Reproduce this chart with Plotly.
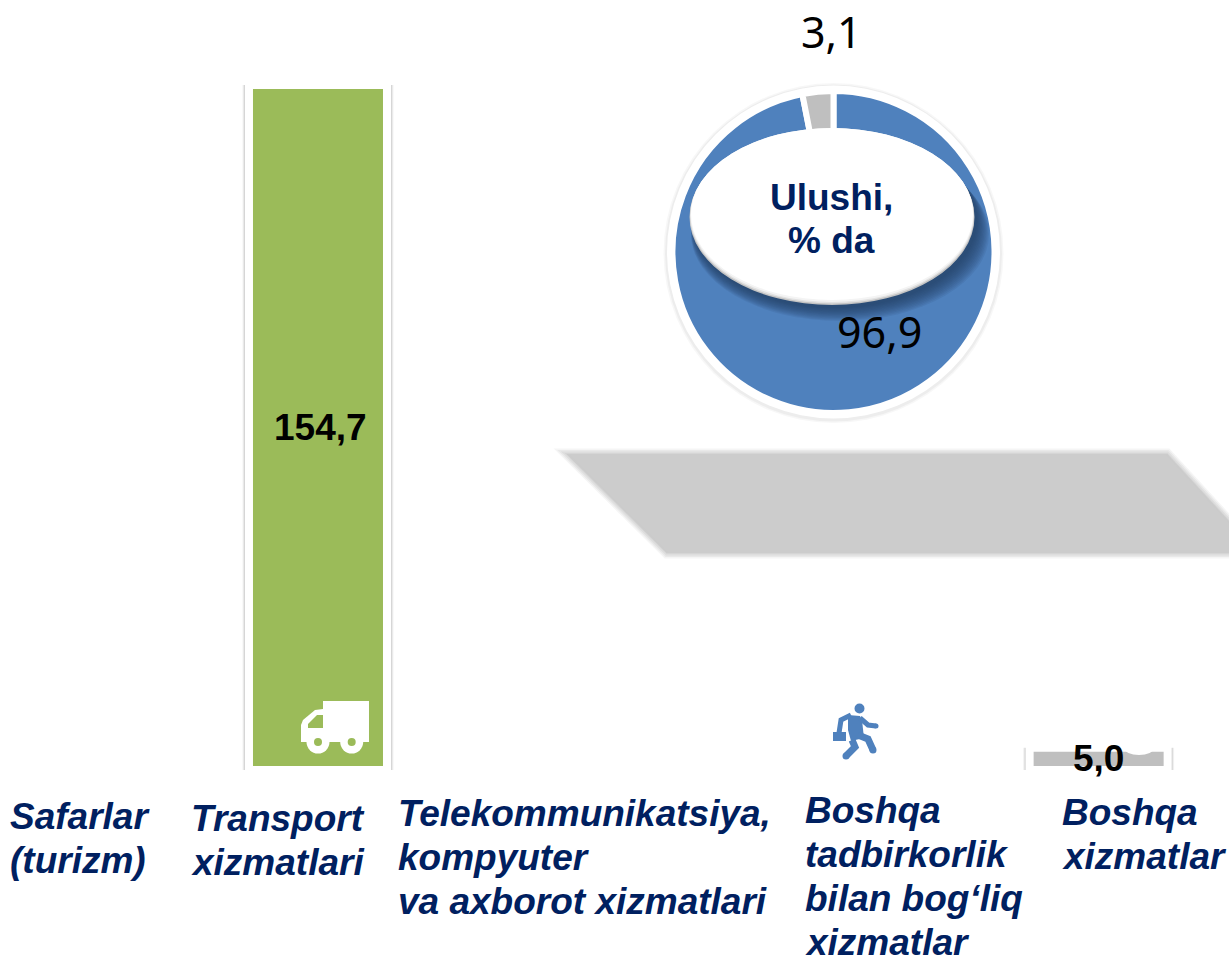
import plotly.graph_objects as go

W, H = 1229, 957

# ---- data ----
categories = ["Safarlar", "Transport", "Telekom", "Boshqa tadbirkorlik", "Boshqa xizmatlar"]
bar_values = [None, 154.7, None, None, 5.0]
bar_colors = ["#9bbb59", "#9bbb59", "#4f81bd", "#4f81bd", "#bfbfbf"]
pie_labels = ["Asosiy", "Boshqa"]
pie_values = [96.9, 3.1]
pie_colors = ["#4f81bd", "#bfbfbf"]
axis_labels = [
    ["Safarlar", "(turizm)"],
    ["Transport", "xizmatlari"],
    ["Telekommunikatsiya,", "kompyuter", "va axborot xizmatlari"],
    ["Boshqa", "tadbirkorlik", "bilan bog‘liq", "xizmatlar"],
    ["Boshqa", "xizmatlar"],
]
label_left = [9, 190, 397, 804, 1061]
label_first_line = [816, 818, 813, 810, 812]
centre_lines = ["Ulushi,", "% da"]


def comma(v):
    return f"{v:.1f}".replace(".", ",")


def X(p):
    return p / W


def Y(p):
    return 1 - p / H


def circle(cx, cy, rx, ry, fill, layer="above"):
    return dict(type="circle", xref="paper", yref="paper",
                x0=X(cx - rx), x1=X(cx + rx), y0=Y(cy + ry), y1=Y(cy - ry),
                fillcolor=fill, line=dict(width=0), layer=layer)


def poly(points, fill, layer="above", close=True, lw=0, lc=None):
    d = "M" + " L".join(f"{X(a):.5f},{Y(b):.5f}" for a, b in points) + (" Z" if close else "")
    return dict(type="path", xref="paper", yref="paper", path=d,
                fillcolor=fill if close else "rgba(0,0,0,0)",
                line=dict(width=lw, color=lc), layer=layer)


def rect(x0, y0, x1, y1, fill, layer="above"):
    return poly([(x0, y0), (x1, y0), (x1, y1), (x0, y1)], fill, layer)


fig = go.Figure()

# soft side shadows of the framed bars, then the framed bars
px_per_cat = 260.2
for width_px, col in [(151, "rgba(0,0,0,0.05)"), (149, "rgba(0,0,0,0.07)"), (147.5, "rgba(0,0,0,0.06)")]:
    fig.add_trace(go.Bar(x=categories, y=bar_values, width=width_px / px_per_cat,
                         marker=dict(color=col, line=dict(width=0)), hoverinfo="skip"))
fig.add_trace(go.Bar(x=categories, y=bar_values, width=138 / px_per_cat,
                     marker=dict(color=bar_colors, line=dict(color="white", width=8))))

fig.add_trace(go.Pie(labels=pie_labels, values=pie_values, sort=False, direction="clockwise",
                     rotation=0, textinfo="none", showlegend=False,
                     marker=dict(colors=pie_colors, line=dict(color="white", width=6)),
                     domain=dict(x=[X(672.5), X(994.5)], y=[Y(413), Y(91)])))

shapes = []
# blurred parallelogram
para = [(567, 454), (1167, 454), (1258, 553), (667, 553)]
for lw, a in [(11, 0.2), (8, 0.3), (5, 0.4), (2, 0.5)]:
    shapes.append(poly(para, "#cccccc", "below", lw=lw, lc=f"rgba(204,204,204,{a})"))
# pie rim
shapes.append(circle(833.5, 253, 170, 170, "rgba(0,0,0,0.03)", "below"))
shapes.append(circle(833.5, 253, 168.5, 168.5, "rgba(0,0,0,0.04)", "below"))
shapes.append(circle(833.5, 252, 166.5, 166.5, "white", "below"))
# centre ellipse shadow
for i in range(12):
    shapes.append(circle(840 - i * 0.5, 234 - i * 1.2, 149 - i * 0.6, 87, "rgba(35,60,100,0.11)"))
# centre ellipse
shapes.append(circle(832, 217, 142.5, 88, "#c4c4c4"))
shapes.append(circle(832, 216, 142, 87.5, "#e2e2e2"))
shapes.append(circle(832, 215, 141.5, 87, "#f4f4f4"))
shapes.append(circle(832, 214, 141, 86, "white"))
# truck icon
W_ = "white"
G_ = bar_colors[1]
shapes.append(rect(323, 701, 369, 742, W_))
shapes.append(poly([(323, 709), (315, 710), (303, 720), (301, 725), (301, 742), (323, 742)], W_))
shapes.append(poly([(308, 728), (308, 724), (317, 715), (323, 715), (323, 728)], G_))
for cx in (318, 351.7):
    shapes.append(circle(cx, 742, 11.5, 11.5, W_))
    shapes.append(circle(cx, 742, 4, 4, G_))
# runner icon
B_ = "#4f81bd"
shapes.append(circle(859.5, 708.5, 5, 5, B_))
shapes.append(poly([(848, 715), (860, 716), (862, 720), (864, 738), (851, 741), (848, 730)], B_))
shapes.append(poly([(851, 715), (841, 720), (839, 733)], B_, close=False, lw=5, lc=B_))
shapes.append(poly([(860, 718), (868, 725), (876, 726)], B_, close=False, lw=5, lc=B_))
shapes.append(poly([(858, 735), (868, 739), (873, 750)], B_, close=False, lw=7, lc=B_))
shapes.append(poly([(852, 740), (855, 747), (846, 756)], B_, close=False, lw=7, lc=B_))
shapes.append(rect(833, 732, 846, 741, B_))
shapes.append(circle(876, 726, 2.5, 2.5, B_))
shapes.append(circle(873, 750, 3.5, 3.5, B_))
shapes.append(circle(846, 756, 3.5, 3.5, B_))
# notch in the top of the small bar
shapes.append(circle(1139, 748, 15, 7, "white"))

ann = []
# value labels on the bars, placed from the data
for c, v in zip(categories, bar_values):
    if v is not None:
        ann.append(dict(x=c, y=v / 2, xref="x", yref="y", text=f"<b>{comma(v)}</b>", showarrow=False,
                        xanchor="center", yanchor="middle", xshift=3 if v > 100 else 0,
                        font=dict(family="Liberation Sans", size=37, color="black")))
# pie labels
for v, (px, py) in zip(pie_values, [(879, 331), (831, 32)]):
    ann.append(dict(x=X(px), y=Y(py), xref="paper", yref="paper", text=comma(v), showarrow=False,
                    xanchor="center", yanchor="middle",
                    font=dict(family="Noto Sans", size=43, color="black")))
for i, t in enumerate(centre_lines):
    ann.append(dict(x=X(832), y=Y(197 + i * 44), xref="paper", yref="paper", text=f"<b>{t}</b>", showarrow=False,
                    xanchor="center", yanchor="middle",
                    font=dict(family="Liberation Sans", size=37, color="#002060")))
# category labels, one annotation per line
for lines, lx, y0 in zip(axis_labels, label_left, label_first_line):
    for i, t in enumerate(lines):
        ann.append(dict(x=X(lx), y=Y(y0 + i * 44.3), xref="paper", yref="paper", xanchor="left", yanchor="middle",
                        text=f"<b><i>{t}</i></b>", showarrow=False, borderpad=0,
                        font=dict(family="Liberation Sans", size=37, color="#002060")))

fig.update_layout(
    width=W, height=H, margin=dict(l=0, r=0, t=0, b=0),
    paper_bgcolor="white", plot_bgcolor="rgba(0,0,0,0)",
    barmode="overlay", showlegend=False, shapes=shapes, annotations=ann,
    xaxis=dict(visible=False, type="category", categoryorder="array", categoryarray=categories,
               range=[-0.222, 4.501]),
    yaxis=dict(visible=False, domain=[1 - 771 / H, 1], range=[-1 / 4.428, 770 / 4.428]),
)
fig.write_html("out.html", config=dict(displayModeBar=False),
               post_script="document.body.style.margin='0';document.body.style.overflow='hidden';")
